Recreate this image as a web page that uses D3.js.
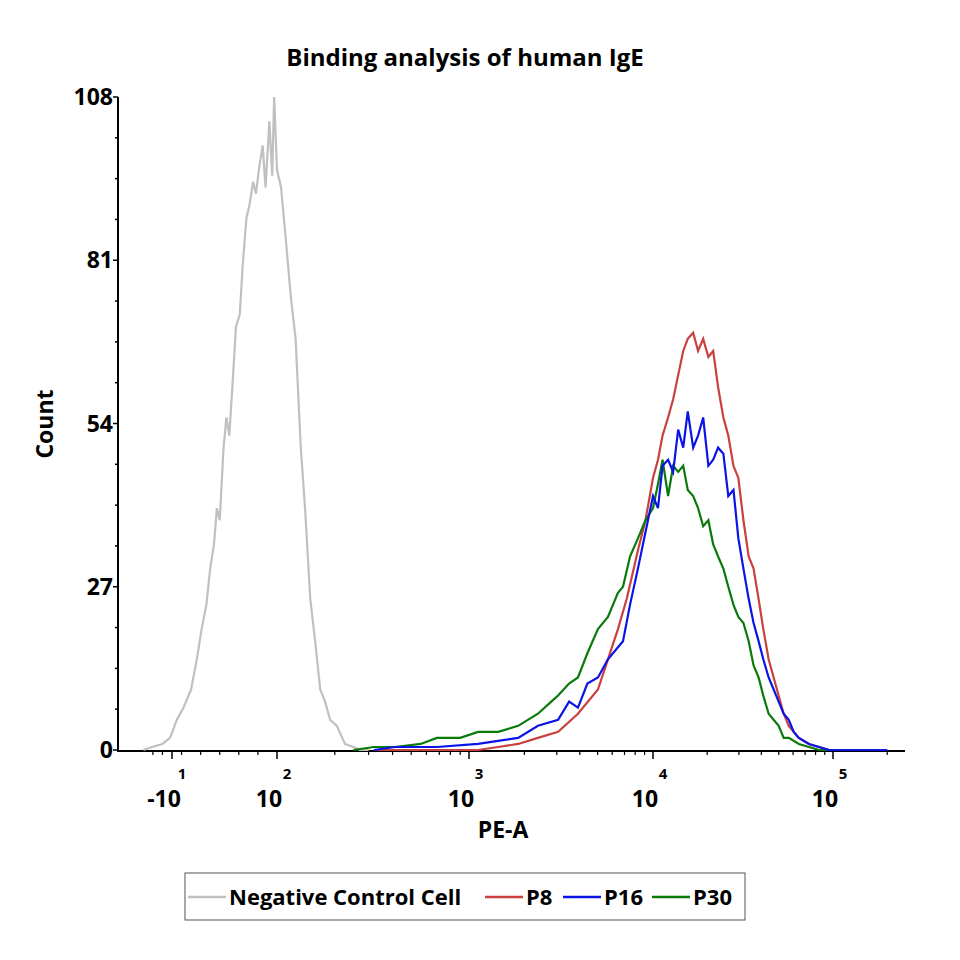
<!DOCTYPE html>
<html><head><meta charset="utf-8">
<script src="https://cdn.jsdelivr.net/npm/d3@7"></script>
<style>body{margin:0;background:#fff}text{font-family:"Open Sans",sans-serif;font-weight:bold}</style>
</head><body><svg id="chart" width="960" height="960"></svg>
<script>
// PE-A values and counts
const grayX = [-40,-31,-20,-12,-5,2,10,16,21,26,30,34,37,40,44,47,50,54,57,61,64,68,71,75,78,81,85,88,92,95,97,100,105,110,118,125,133,140,149,158,168,178,189,205,226,250,270,300]
const grayY = [0,0.5,1,2,5,7,10,15,20,24,30,34,40,38,50,55,52,62,70,72,80,88,90,94,92,96,100,93,104,95,108,96,93,86,75,68,50,40,25,18,10,8,5,4,1,0.5,0,0]
const redX = [320,680,1120,1440,1850,2370,3050,3910,5020,5690,6450,7200,8280,9100,10000,10660,11300,12130,12940,13800,14720,15600,16720,17800,19000,20300,21600,23000,24600,26200,28000,29800,31800,34000,36200,38600,41000,43900,46800,49900,53200,56800,60500,64600,73500,83600,95100,130000]
const redY = [0,0,0,0.5,1,2,3,6,10,15,20,25,33,38,45,48,52,55,58,62,66,68,69,66,68,65,66,60,55,52,47,45,38,32,30,25,20,15,12,9,6,4,3,2,1,0.5,0,0]
const blueX = [320,411,680,1120,1440,1850,2370,3050,3500,3910,4400,5020,5690,6450,6870,7500,8280,9100,10000,10660,11300,12130,12940,13800,14720,15600,16720,17800,19000,20300,21600,23000,24600,26200,28000,29800,31800,34000,36200,38600,41000,43900,46800,49900,53200,56800,60500,64600,73500,83600,95100,130000,200000]
const blueY = [0,0.5,0.5,1,1.5,2,4,5,8,7,11,12,15,17,18,24,30,36,42,40,47,48,46,53,50,56,50,52,55,47,48,50,49,42,43,35,30,25,21,18,15,12,10,8,6,5,3,2,1,0.5,0,0,0]
const greenX = [250,320,411,560,680,900,1120,1440,1850,2370,2800,3050,3500,3910,4400,5020,5690,6450,6870,7500,8280,9100,10000,10660,11300,12130,12940,13800,14720,15600,16720,17800,19000,20300,21600,23000,24600,26200,28000,29800,31800,34000,36200,38600,41000,43900,46800,49900,53200,56800,64600,73500,83600,130000,200000]
const greenY = [0,0.5,0.5,1,2,2,3,3,4,6,8,9,11,12,16,20,22,26,27,32,35,38,40,44,48,42,47,46,47,43,42,40,37,38,34,32,30,27,24,22,21,18,14,12,9,6,5,4,2,2,1,0.5,0,0,0]
const seriesNames = ['Negative Control Cell','P8','P16','P30']
const seriesColors = ['#c0c0c0','#c8413f','#0a14e6','#0a7a0a']
const yTicks = [0,27,54,81,108]
const xMajor = [-10,100,1000,10000,100000]
const xMajorExp = ['1','2','3','4','5']

const svg = d3.select('#chart')
// biexponential-like display: linear below 100, log above
const g = v => v >= 100 ? Math.log10(v) : 2 - (100 - v) / 110 * 0.6
const xs = d3.scaleLinear().domain([g(-10), 2, 3, 4, 5]).range([172, 277, 469, 653, 833])
const x = v => xs(g(v))
const xL = 118, xR = 905
const y = d3.scaleLinear().domain([0, 108]).range([750, 97])

svg.append('text').attr('x', 465).attr('y', 66).attr('text-anchor', 'middle')
  .attr('font-size', 24).text('Binding analysis of human IgE')

// y axis
const ya = svg.append('g')
ya.append('line').attr('x1', xL).attr('x2', xL).attr('y1', y(108)).attr('y2', 752).attr('stroke', '#000').attr('stroke-width', 2)
d3.range(0, 108.1, 6.75).forEach(v => {
  const major = yTicks.includes(v)
  ya.append('line').attr('x1', xL - (major ? 5 : 3)).attr('x2', xL).attr('y1', y(v)).attr('y2', y(v)).attr('stroke', '#000').attr('stroke-width', 1.5)
})
yTicks.forEach(v => ya.append('text').attr('x', xL - 5).attr('y', y(v) + 8).attr('text-anchor', 'end').attr('font-size', 23).text(v))
svg.append('text').attr('transform', 'translate(53,424) rotate(-90)').attr('text-anchor', 'middle').attr('font-size', 23).text('Count')

// x axis
const xa = svg.append('g')
xa.append('line').attr('x1', xL).attr('x2', xR).attr('y1', 751).attr('y2', 751).attr('stroke', '#000').attr('stroke-width', 2)
const minors = [-30, -20, 0, 20, 40, 60, 80]
;[100, 1000, 10000, 100000].forEach(d => d3.range(2, 10).forEach(m => minors.push(d * m)))
minors.push(1e6)
minors.filter(v => x(v) > xL && x(v) < xR).forEach(v =>
  xa.append('line').attr('x1', x(v)).attr('x2', x(v)).attr('y1', 751).attr('y2', 755).attr('stroke', '#000').attr('stroke-width', 1.2))
xMajor.forEach((v, i) => {
  xa.append('line').attr('x1', x(v)).attr('x2', x(v)).attr('y1', 751).attr('y2', 759).attr('stroke', '#000').attr('stroke-width', 1.5)
  xa.append('text').attr('x', x(v) - 8).attr('y', 807).attr('text-anchor', 'middle').attr('font-size', 23).text(v < 0 ? '-10' : '10')
  xa.append('text').attr('x', x(v) + 10).attr('y', 779).attr('text-anchor', 'middle').attr('font-size', 15).text(xMajorExp[i])
})
svg.append('text').attr('x', 503).attr('y', 838).attr('text-anchor', 'middle').attr('font-size', 23).text('PE-A')

// histograms
const line = d3.line().x(d => Math.min(xR, x(d[0]))).y(d => y(d[1]))
const series = [[grayX, grayY], [redX, redY], [blueX, blueY], [greenX, greenY]]
;[0, 1, 3, 2].forEach(i => {
  const [xv, yv] = series[i]
  svg.append('path').datum(xv.map((v, j) => [v, yv[j]]).filter(d => x(d[0]) >= xL))
    .attr('d', line).attr('fill', 'none').attr('stroke', seriesColors[i]).attr('stroke-width', 2.2)
})

// legend
const lg = svg.append('g')
lg.append('rect').attr('x', 185).attr('y', 873).attr('width', 560).attr('height', 47).attr('fill', '#fff').attr('stroke', '#555')
const lx = [188, 485, 563, 652]
seriesNames.forEach((n, i) => {
  lg.append('line').attr('x1', lx[i]).attr('x2', lx[i] + 38).attr('y1', 897).attr('y2', 897).attr('stroke', seriesColors[i]).attr('stroke-width', 2.5)
  lg.append('text').attr('x', lx[i] + 41).attr('y', 905).attr('font-size', 22).text(n)
})
</script></body></html>
